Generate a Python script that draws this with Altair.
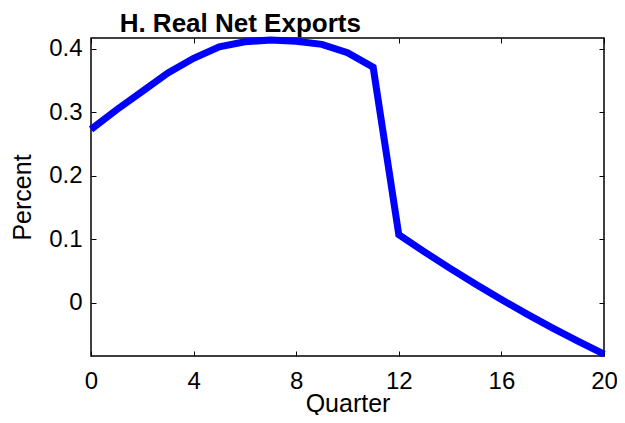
import altair as alt
import pandas as pd

quarters = list(range(21))
net_exports = [0.273, 0.304, 0.333, 0.362, 0.385, 0.403, 0.411, 0.414, 0.412, 0.407,
               0.394, 0.371, 0.107, 0.080, 0.054, 0.029, 0.005, -0.018, -0.040, -0.061, -0.081]
x_ticks = [0, 4, 8, 12, 16, 20]
y_ticks = [0, 0.1, 0.2, 0.3, 0.4]
x_domain = [0, 20]
y_domain = [-0.084, 0.417]

df = pd.DataFrame({"quarter": quarters, "value": net_exports})

FONT = "Liberation Sans"
LFS = 24
TFS = 25

x_scale = alt.Scale(domain=x_domain, nice=False, zero=False)
y_scale = alt.Scale(domain=y_domain, nice=False, zero=False)

common_axis = dict(offset=-5, tickSize=5, domain=False, grid=False, tickColor="black",
                   tickWidth=1, labelFont=FONT, titleFont=FONT, labelFontSize=LFS,
                   titleFontSize=TFS, labelColor="black", titleColor="black",
                   titleFontWeight="normal", labelFlush=False, labelOverlap=False,
                   labelBound=False)

main = alt.Chart(df).mark_line(color="#0000ff", strokeWidth=7, strokeJoin="miter").encode(
    x=alt.X("quarter:Q", scale=x_scale,
            axis=alt.Axis(orient="bottom", values=x_ticks, title="Quarter",
                          labelPadding=13, titlePadding=-2, **common_axis)),
    y=alt.Y("value:Q", scale=y_scale,
            axis=alt.Axis(orient="left", values=y_ticks, title="Percent", format=".1~f",
                          labelPadding=9, titlePadding=13, **common_axis)),
)

frame = alt.Chart(df).mark_line(opacity=0).encode(
    x=alt.X("quarter:Q", scale=x_scale,
            axis=alt.Axis(orient="top", values=x_ticks, title=None, labels=False,
                          **common_axis)),
    y=alt.Y("value:Q", scale=y_scale,
            axis=alt.Axis(orient="right", values=y_ticks, title=None, labels=False,
                          **common_axis)),
)

chart = alt.layer(main, frame).resolve_scale(
    x="independent", y="independent"
).properties(
    width=513,
    height=318,
    autosize=alt.AutoSizeParams(type="none"),
    padding={"left": 83, "top": 30, "right": 13, "bottom": 59},
    title=alt.TitleParams("H. Real Net Exports", anchor="start", dx=109, dy=18, fontSize=26,
                          fontWeight="bold", font=FONT, color="black", offset=7),
).configure_view(stroke="black", strokeWidth=1.5)

chart.save("out.html", embed_options={"renderer": "svg", "actions": False})
